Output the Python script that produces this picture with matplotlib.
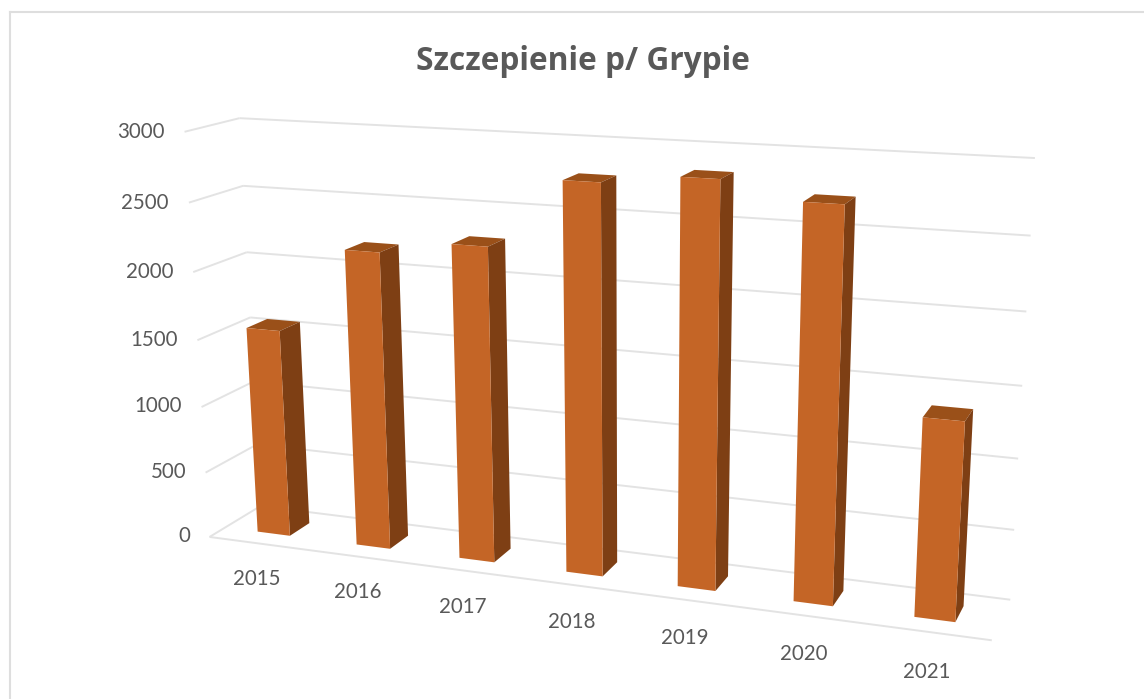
import numpy as np
import matplotlib
matplotlib.use("Agg")
import matplotlib.pyplot as plt
from matplotlib.lines import Line2D
from mpl_toolkits.mplot3d import proj3d
from mpl_toolkits.mplot3d.art3d import Line3DCollection

# ---- data ----
years = ["2015", "2016", "2017", "2018", "2019", "2020", "2021"]
values = [1561, 2192, 2288, 2775, 2842, 2726, 1375]
value_ticks = [0, 500, 1000, 1500, 2000, 2500, 3000]
title = "Szczepienie p/ Grypie"

# ---- camera: fitted from the chart box corners as they appear on the page ----
model_pts = [(0, 1, 0), (7, 1, 0), (0, 1, 1), (7, 1, 1), (0, 0, 0), (7, 0, 0), (0, 0, 1)]
page_pts = [(262, 506), (1010, 600), (238, 118), (1035, 158), (208, 537), (992, 640), (186, 132)]


def fit_camera(model, page, zmax):
    rows = []
    for (x, y, z), (u, v) in zip(model, page):
        rows.append([x, y, z, 1, 0, 0, 0, 0, -u * x, -u * y, -u * z, -u])
        rows.append([0, 0, 0, 0, x, y, z, 1, -v * x, -v * y, -v * z, -v])
    p = np.linalg.svd(np.array(rows, float))[2][-1].reshape(3, 4)
    p = p / p[2, 3]
    p[:, 2] = p[:, 2] / zmax
    # third row gives the depth used to sort faces: larger means farther away
    return np.array([p[0], p[1], [0, 1, 0, 0.01], p[2]])


plt.rcParams["font.family"] = ["Lato", "DejaVu Sans"]
W, H = 1144, 699
fig = plt.figure(figsize=(W / 100, H / 100), dpi=100, facecolor="white")
ax = fig.add_axes([0, 0, 1, 1], projection="3d", computed_zorder=False)
M = fit_camera(model_pts, page_pts, value_ticks[-1])
ax.get_proj = lambda: M
ax.apply_aspect = lambda position=None: None
ax.set_position([0, 0, 1, 1])
ax.set_xlim(0, 7)
ax.set_ylim(0, 1)
ax.set_zlim(0, value_ticks[-1])
ax.set_xticks([])
ax.set_yticks([])
ax.set_zticks([])
ax.set_axis_off()
ax.patch.set_visible(False)
ax.viewLim.intervalx = (0, W)
ax.viewLim.intervaly = (H, 0)

GRID = "#E3E3E3"
TEXT = "#595959"
n = len(years)

# walls and floor
segments = []
for v in value_ticks:
    segments.append([(0, 0, v), (0, 1, v)])
    segments.append([(0, 1, v), (n, 1, v)])
segments.append([(0, 0, 0), (n, 0, 0)])
ax.add_collection3d(Line3DCollection(segments, colors=GRID, linewidths=1.4, zorder=1), autolim=False)

# bars
bar_w, bar_d = 0.33, 0.4
xs = np.arange(n) + 0.5 - bar_w / 2
none = (0, 0, 0, 0)
front, side, cap = "#C46526", "#7E3F14", "#9A5019"
# face order of bar3d: bottom, top, front, back, left, right
face_cols = [none, cap, front, none, none, side] * n
ax.bar3d(xs, [0.3] * n, [0] * n, bar_w, bar_d, values, color=face_cols,
         shade=False, linewidth=0, zorder=2)


def page_text(x, y, z, s, **kw):
    px, py, _ = proj3d.proj_transform(x, y, z, M)
    fig.text(px / W, 1 - py / H, s, color=TEXT, va="center", **kw)


# tick labels
for v in value_ticks:
    page_text(-0.2, 0, v - 10, str(v), ha="right", fontsize=14.8)
for i, y in enumerate(years):
    page_text(i + 0.52, -0.1, -245, y, ha="center", fontsize=14.8)

fig.text(583 / W, 1 - 58 / H, title, ha="center", va="center_baseline", color=TEXT,
         fontsize=22.8, fontweight="bold", family=["Open Sans", "DejaVu Sans"])

# chart frame: only the top and left edges are on the page
fx, fy = 9.5 / W, 1 - 12 / H
for xd, yd in (([fx, 1], [fy, fy]), ([fx, fx], [fy, 0])):
    fig.add_artist(Line2D(xd, yd, transform=fig.transFigure, color="#DEDEDE", lw=1.5))
fig.savefig("out.png", dpi=100)
